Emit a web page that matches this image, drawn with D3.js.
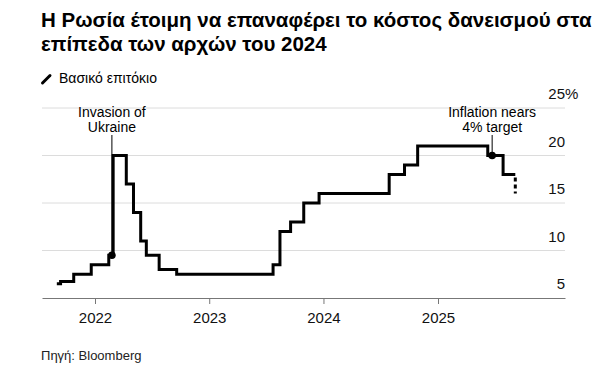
<!DOCTYPE html>
<html>
<head>
<meta charset="utf-8">
<script src="https://cdn.jsdelivr.net/npm/d3@7"></script>
<style>
  html, body { margin: 0; padding: 0; background: #fff; }
  svg { display: block; font-family: "Liberation Sans", Arial, Helvetica, sans-serif; }
</style>
</head>
<body>
<svg id="chart" width="609" height="378"></svg>
<script>
// ---- data ----
const titleLines = ["Η Ρωσία έτοιμη να επαναφέρει το κόστος δανεισμού στα", "επίπεδα των αρχών του 2024"];
const legendLabel = "Βασικό επιτόκιο";
const sourceText = "Πηγή: Bloomberg";

const rateDates = ["2021-09-01","2021-09-13","2021-10-25","2021-12-20","2022-02-14","2022-02-28","2022-04-11","2022-05-04","2022-05-27","2022-06-14","2022-07-25","2022-09-19","2023-07-24","2023-08-15","2023-09-18","2023-10-30","2023-12-18","2024-07-29","2024-09-16","2024-10-28","2025-06-09","2025-07-28","2025-09-05"];
const rateValues = [6.5, 6.75, 7.5, 8.5, 9.5, 20, 17, 14, 11, 9.5, 8, 7.5, 8.5, 12, 13, 15, 16, 18, 19, 21, 20, 18, 18];

const expectedDates = ["2025-09-05", "2025-09-05"];
const expectedValues = [18, 16];

const annotationDates = ["2022-02-24", "2025-06-23"];
const annotationValues = [9.5, 20];
const annotationTexts = [["Invasion of", "Ukraine"], ["Inflation nears", "4% target"]];

const yTicks = [5, 10, 15, 20, 25];
const xTickDates = ["2022-01-01", "2023-01-01", "2024-01-01", "2025-01-01"];
const xTickLabels = ["2022", "2023", "2024", "2025"];

// ---- layout ----
const svg = d3.select("#chart");
const parse = d3.timeParse("%Y-%m-%d");
const plotLeft = 42, plotRight = 565, plotTop = 108, plotBottom = 298;

const xRef = d3.scaleTime().domain([parse("2022-01-01"), parse("2025-01-01")]).range([95, 438]);
const x = d3.scaleTime().domain([xRef.invert(plotLeft), xRef.invert(plotRight)]).range([plotLeft, plotRight]);
const y = d3.scaleLinear().domain([5, 25]).range([plotBottom, plotTop]);

// title
svg.append("g").selectAll("text").data(titleLines).join("text")
  .attr("x", 41).attr("y", (d, i) => 27 + i * 23.5)
  .attr("font-size", 20.5).attr("font-weight", "bold").attr("fill", "#000")
  .text(d => d);

// legend
svg.append("line").attr("x1", 42.5).attr("y1", 83).attr("x2", 50).attr("y2", 75.5)
  .attr("stroke", "#000").attr("stroke-width", 3).attr("stroke-linecap", "round");
svg.append("text").attr("x", 59).attr("y", 82.7).attr("font-size", 14).attr("fill", "#000").text(legendLabel);

// gridlines
svg.append("g").selectAll("line").data(yTicks.filter(v => v !== 5)).join("line")
  .attr("x1", plotLeft).attr("x2", plotRight)
  .attr("y1", d => y(d)).attr("y2", d => y(d))
  .attr("stroke", "#dcdcdc").attr("stroke-width", 1);

// y labels
const yl = svg.append("g");
yl.selectAll("text").data(yTicks).join("text")
  .attr("x", plotRight).attr("y", d => y(d) - 9)
  .attr("text-anchor", "end").attr("font-size", 15).attr("fill", "#111")
  .text(d => d);
yl.append("text").attr("x", plotRight).attr("y", y(25) - 9)
  .attr("font-size", 15).attr("fill", "#111").text("%");

// x axis
const xAxis = d3.axisBottom(x)
  .tickValues(xTickDates.map(parse))
  .tickFormat((d, i) => xTickLabels[i])
  .tickSize(6).tickSizeOuter(0).tickPadding(8);
const gx = svg.append("g").attr("transform", `translate(0,${plotBottom})`).call(xAxis);
gx.select(".domain").attr("stroke", "#777").attr("stroke-width", 1);
gx.selectAll(".tick line").attr("stroke", "#777");
gx.selectAll(".tick text").attr("font-size", 15).attr("fill", "#111")
  .attr("font-family", "'Liberation Sans', Arial, sans-serif");

// rate line
const rateData = rateDates.map((d, i) => ({ date: parse(d), value: rateValues[i] }));
const line = d3.line().x(d => x(d.date)).y(d => y(d.value)).curve(d3.curveStepAfter);
svg.append("path").datum(rateData)
  .attr("d", line).attr("fill", "none").attr("stroke", "#000")
  .attr("stroke-width", 3).attr("stroke-linejoin", "miter");

// expected (dotted)
const expData = expectedDates.map((d, i) => ({ date: parse(d), value: expectedValues[i] }));
svg.append("path").datum(expData)
  .attr("d", d3.line().x(d => x(d.date)).y(d => y(d.value)))
  .attr("fill", "none").attr("stroke", "#000").attr("stroke-width", 3)
  .attr("stroke-dasharray", "4,3").attr("stroke-dashoffset", -3);

// annotations
annotationDates.forEach((d, i) => {
  const ax = x(parse(d)), ay = y(annotationValues[i]);
  svg.append("line").attr("x1", ax).attr("x2", ax).attr("y1", 135).attr("y2", ay)
    .attr("stroke", "#000").attr("stroke-width", 1);
  svg.append("circle").attr("cx", ax).attr("cy", ay).attr("r", 3.8).attr("fill", "#000");
  svg.append("g").selectAll("text").data(annotationTexts[i]).join("text")
    .attr("x", ax).attr("y", (t, j) => 116.5 + j * 15)
    .attr("text-anchor", "middle").attr("font-size", 14).attr("fill", "#000")
    .text(t => t);
});

// source
svg.append("text").attr("x", 41).attr("y", 360).attr("font-size", 13).attr("fill", "#222").text(sourceText);
</script>
</body>
</html>
